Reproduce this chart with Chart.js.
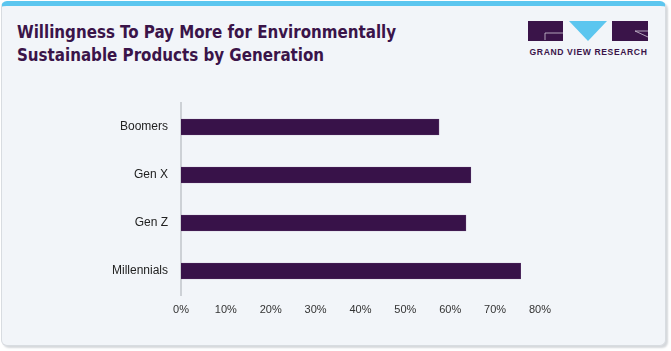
<!DOCTYPE html>
<html>
<head>
<meta charset="utf-8">
<script src="https://cdn.jsdelivr.net/npm/chart.js@4.4.1/dist/chart.umd.min.js"></script>
<style>
  html, body { margin: 0; padding: 0; background: #ffffff; }
  body { width: 671px; height: 351px; position: relative; overflow: hidden; }
  .card {
    position: absolute; left: 1px; top: 1px; width: 665px; height: 345px;
    background: #f2f5f9; border: 1px solid #d8dce1; border-top: 5px solid #5cc6ef;
    border-radius: 6px; box-shadow: 2px 2px 2px #d5d8dc; box-sizing: border-box;
  }
  .title {
    position: absolute; left: 17px; top: 21px; margin: 0;
    font-family: "Liberation Sans Narrow", "DejaVu Sans Condensed", sans-serif;
    font-weight: bold; font-size: 16.8px; line-height: 23px; color: #3a1449;
  }
  .logo { position: absolute; left: 528px; top: 21px; }
  .logo-text {
    position: absolute; left: 528px; top: 47px; width: 121px; text-align: center;
    font-family: "Liberation Sans", Arial, sans-serif; font-weight: bold;
    font-size: 8.6px; letter-spacing: 0.6px; color: #3a1449; white-space: nowrap;
  }
  canvas { position: absolute; left: 0; top: 0; }
</style>
</head>
<body>
<div class="card"></div>
<h1 class="title">Willingness To Pay More for Environmentally<br>Sustainable Products by Generation</h1>
<svg class="logo" width="121" height="20" viewBox="0 0 121 20">
  <rect x="0" y="0" width="35" height="20" fill="#3a1449"/>
  <path d="M17 19 V12 H35" stroke="#cfc6d6" stroke-width="0.8" fill="none"/>
  <polygon points="41,0 79,0 60,20" fill="#5cc6ef"/>
  <rect x="84" y="0" width="36" height="20" fill="#3a1449"/>
  <path d="M120 16 L107 10 H120" stroke="#cfc6d6" stroke-width="0.8" fill="none"/>
</svg>
<div class="logo-text">GRAND VIEW RESEARCH</div>
<canvas id="chart" width="671" height="351"></canvas>
<script>
const categories = ["Boomers", "Gen X", "Gen Z", "Millennials"];
const shares = [57.5, 64.6, 63.5, 75.7];
const tickValues = [0, 10, 20, 30, 40, 50, 60, 70, 80];

const ctx = document.getElementById("chart");
new Chart(ctx, {
  type: "bar",
  data: {
    labels: categories,
    datasets: [
      {
        data: shares,
        backgroundColor: "#381249",
        borderColor: "#5b3a6c",
        borderWidth: 0.6,
        barThickness: 16,
      },
    ],
  },
  options: {
    indexAxis: "y",
    responsive: false,
    animation: false,
    layout: { padding: { top: 103, left: 0, right: 131, bottom: 26 } },
    plugins: { legend: { display: false }, tooltip: { enabled: false } },
    scales: {
      x: {
        min: 0,
        max: 80,
        grid: { display: false, drawTicks: false },
        border: { display: false },
        afterBuildTicks: (axis) => {
          axis.ticks = tickValues.map((v) => ({ value: v }));
        },
        afterFit: (axis) => {
          axis.height = 30;
        },
        ticks: {
          padding: 8,
          color: "#333333",
          font: { family: "Liberation Sans, Arial, sans-serif", size: 11 },
          callback: (v) => v + "%",
        },
      },
      y: {
        grid: { display: false, drawTicks: false },
        border: { display: true, color: "#cdd1d6", width: 2 },
        afterFit: (axis) => {
          axis.width = 181;
        },
        ticks: {
          padding: 13,
          color: "#222222",
          font: { family: "Liberation Sans, Arial, sans-serif", size: 12 },
        },
      },
    },
  },
});
</script>
</body>
</html>
